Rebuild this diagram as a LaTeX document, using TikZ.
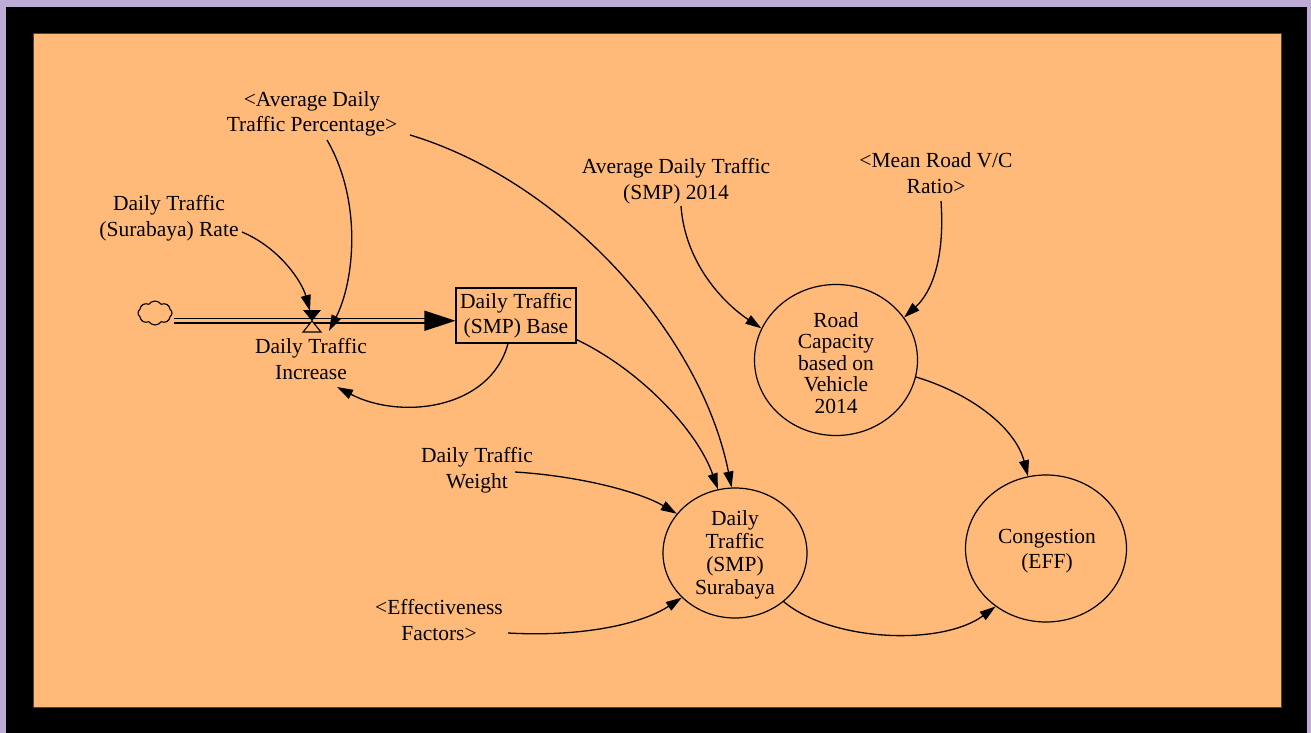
\documentclass[tikz,border=0pt]{standalone}
\usepackage{fontspec}
\setmainfont{Liberation Serif}
\usetikzlibrary{arrows.meta,shapes.geometric,shapes.symbols}
\definecolor{panel}{RGB}{255,186,122}
\definecolor{lav}{RGB}{190,172,214}
\definecolor{rim}{RGB}{90,60,40}
\begin{document}
\begin{tikzpicture}[x=1pt,y=-1pt,
  lbl/.style={align=center, font=\fontsize{21.5}{25.5}\selectfont, inner sep=0pt},
  aux/.style={draw, ellipse, line width=1.2pt, inner sep=0pt},
  link/.style={line width=1.3pt, -{Triangle[length=16pt,width=10pt]}},
]
\useasboundingbox (0,0) rectangle (1311,733);
% frame and panel
\fill[lav] (0,0) rectangle (1311,733);
\fill[black] (6,7) rectangle (1307,733);
\filldraw[fill=panel, draw=rim, line width=0.8pt] (33,33) rectangle (1281,707);

% variables
\node[lbl] (pct) at (312,114) {<Average Daily\\Traffic Percentage>};
\node[lbl] (rate) at (169,218) {Daily Traffic\\(Surabaya) Rate};
\node[lbl] (avg) at (676,181) {Average Daily Traffic\\(SMP) 2014};
\node[lbl] (vc) at (936,173) {<Mean Road V/C\\Ratio>};
\node[lbl] (inc) at (311,359) {Daily Traffic\\Increase};
\node[lbl, draw, line width=1.2pt, minimum width=120, minimum height=55] (base) at (516,315.5) {Daily Traffic\\(SMP) Base};
\node[lbl] (wt) at (477,470) {Daily Traffic\\Weight};
\node[lbl] (eff) at (439,620) {<Effectiveness\\Factors>};

% auxiliary variables drawn as ellipses
\node[aux, minimum width=163, minimum height=151] (cap) at (836,360) {};
\node[lbl, font=\fontsize{21.5}{21.5}\selectfont] (captxt) at (836,363) {Road\\Capacity\\based on\\Vehicle\\2014};
\node[aux, minimum width=144, minimum height=130] (smp) at (735,553) {};
\node[lbl, font=\fontsize{21.5}{23}\selectfont] (smptxt) at (735,555) {Daily\\Traffic\\(SMP)\\Surabaya};
\node[aux, minimum width=161, minimum height=147] (cong) at (1046,548.5) {};
\node[lbl] (congtxt) at (1047,551) {Congestion\\(EFF)};

% source cloud and flow pipe
\node[cloud, draw, cloud puffs=8, cloud puff arc=110, minimum width=34, minimum height=24, aspect=1.4, inner sep=0pt, line width=1.1pt] (src) at (155,313) {};
\draw[double=panel, double distance=3.2pt, line width=1.2pt] ([shift={(1,7.75)}]src.east) -- ([shift={(-30,5.25)}]base.west);
\fill ([shift={(-31,-5)}]base.west) -- ([shift={(0,5.25)}]base.west) -- ([shift={(-31,15.5)}]base.west) -- cycle;

% valve
\coordinate (valve) at (312,321);
\fill ([shift={(-9,-11)}]valve) -- ([shift={(9,-11)}]valve) -- (valve) -- cycle;
\draw[line width=1.1pt, fill=panel] (valve) -- ([shift={(-9,11)}]valve) -- ([shift={(9,11)}]valve) -- cycle;

% causal links
\draw[link] ([shift={(15,26)}]pct.center) .. controls (362,200) and (355,280) .. ([shift={(17,10)}]valve);
\draw[link] ([shift={(73,14)}]rate.center) .. controls (280,248) and (302,282) .. ([shift={(-2,-10)}]valve);
\draw[link] ([shift={(98,21)}]pct.center) .. controls (560,180) and (700,330) .. (smp.93);
\draw[link] ([shift={(0,-4)}]base.south east) .. controls (640,370) and (697,430) .. (smp.105);
\draw[link] ([shift={(-8,0)}]base.south) .. controls (490,410) and (400,420) .. ([shift={(26,28)}]inc.center);
\draw[link] ([shift={(5,25)}]avg.center) .. controls (685,262) and (722,302) .. (cap.157);
\draw[link] ([shift={(5,28)}]vc.center) .. controls (945,258) and (932,292) .. (cap.32);
\draw[link] (cap.-12) .. controls (975,395) and (1016,430) .. (cong.104);
\draw[link] ([shift={(38,2)}]wt.center) .. controls (580,476) and (640,492) .. (smp.146);
\draw[link] ([shift={(69,13)}]eff.center) .. controls (580,637) and (640,625) .. (smp.220);
\draw[link] (smp.-45) .. controls (832,642) and (942,646) .. (cong.229);
\end{tikzpicture}
\end{document}
